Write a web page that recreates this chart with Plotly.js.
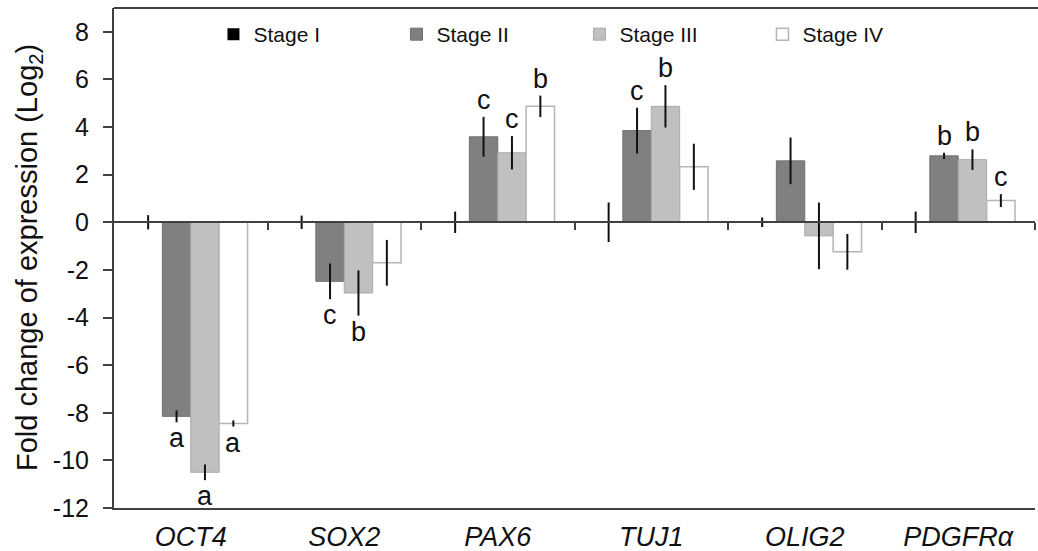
<!DOCTYPE html>
<html>
<head>
<meta charset="utf-8">
<script src="https://cdn.plot.ly/plotly-3.0.1.min.js"></script>
<style>html,body{margin:0;padding:0;background:#fff;overflow:hidden}</style>
</head>
<body>
<div id="chart" style="width:1038px;height:551px"></div>
<script>
const categories = ['OCT4', 'SOX2', 'PAX6', 'TUJ1', 'OLIG2', 'PDGFRα'];
const stageNames = ['Stage I', 'Stage II', 'Stage III', 'Stage IV'];

const stage1 = [0, 0, 0, 0, 0, 0];
const stage1Err = [0.3, 0.28, 0.45, 0.83, 0.2, 0.45];
const stage2 = [-8.15, -2.48, 3.59, 3.85, 2.58, 2.79];
const stage2Err = [0.25, 0.75, 0.84, 0.96, 0.98, 0.13];
const stage3 = [-10.5, -2.97, 2.92, 4.87, -0.57, 2.63];
const stage3Err = [0.33, 0.95, 0.7, 0.89, 1.4, 0.43];
const stage4 = [-8.45, -1.7, 4.87, 2.33, -1.24, 0.91];
const stage4Err = [0.13, 0.96, 0.45, 0.97, 0.75, 0.27];

const stage1Letters = ['', '', '', '', '', ''];
const stage2Letters = ['a', 'c', 'c', 'c', '', 'b'];
const stage3Letters = ['a', 'b', 'c', 'b', '', 'b'];
const stage4Letters = ['a', '', 'b', '', '', 'c'];

const yTicks = [-12, -10, -8, -6, -4, -2, 0, 2, 4, 6, 8];
const yTickLabels = ['-12', '-10', '-8', '-6', '-4', '-2', '0', '2', '4', '6', '8'];
const yTitle = 'Fold change of expression (Log<sub>2</sub>)';

const values = [stage1, stage2, stage3, stage4];
const errors = [stage1Err, stage2Err, stage3Err, stage4Err];
const letters = [stage1Letters, stage2Letters, stage3Letters, stage4Letters];

const fills = ['#000000', '#808080', '#c0c0c0', '#ffffff'];
const outlines = ['#000000', '#6f6f6f', '#a9a9a9', '#b5b5b5'];
const outlineW = [0, 1, 1, 1.5];

const W = 1038, H = 551;
const M = {l: 114, r: 3, t: 8, b: 43};
const yRange = [-12, 9];
const bargap = 0.26;
const FONT = 'Liberation Sans, Arial, sans-serif';
const TXT = '#111111';
const AX = '#404040';

const traces = values.map((v, i) => ({
  type: 'bar',
  name: stageNames[i],
  x: categories,
  y: v,
  marker: {color: fills[i], line: {color: outlines[i], width: outlineW[i]}},
  error_y: {type: 'data', array: errors[i], visible: true, color: '#111', thickness: 2, width: 0},
  hoverinfo: 'x+y+name'
}));
traces.push({type: 'scatter', x: [0], y: [0], xaxis: 'x2', yaxis: 'y', mode: 'markers',
  marker: {opacity: 0, size: 1}, showlegend: false, hoverinfo: 'skip'});

const plotW = W - M.l - M.r;
const barW = plotW / categories.length * (1 - bargap) / stageNames.length;
const annotations = [];
letters.forEach((arr, s) => {
  arr.forEach((t, c) => {
    if (!t) return;
    const v = values[s][c], e = errors[s][c];
    const pos = v >= 0;
    annotations.push({
      x: categories[c], y: pos ? v + e : v - e,
      xref: 'x', yref: 'y',
      text: t, showarrow: false,
      xshift: (s - 1.5) * barW,
      yanchor: pos ? 'bottom' : 'top',
      yshift: pos ? 0 : 1,
      font: {family: FONT, size: 27, color: TXT}
    });
  });
});
annotations.push({
  xref: 'paper', yref: 'paper', x: -(M.l - 29) / plotW, y: 0.5,
  xanchor: 'center', yanchor: 'middle', textangle: -90,
  text: yTitle, showarrow: false,
  font: {family: FONT, size: 29, color: TXT}
});

const layout = {
  width: W, height: H,
  margin: M,
  paper_bgcolor: '#fff', plot_bgcolor: '#fff',
  barmode: 'group', bargap: bargap, bargroupgap: 0,
  font: {family: FONT, color: TXT},
  showlegend: true,
  legend: {
    orientation: 'h', x: 0.108, y: 0.988, xanchor: 'left', yanchor: 'top',
    font: {family: FONT, size: 21, color: TXT},
    entrywidth: 138, entrywidthmode: 'pixels',
    bgcolor: 'rgba(0,0,0,0)', traceorder: 'normal'
  },
  xaxis: {
    type: 'category', range: [-0.5, 5.5],
    tickmode: 'array', tickvals: categories,
    ticktext: categories.map(c => '<i>' + c + '</i>'),
    tickfont: {family: FONT, size: 27, color: TXT},
    ticks: '', ticklabelstandoff: 4,
    showline: true, linecolor: AX, linewidth: 2,
    showgrid: false, zeroline: false, fixedrange: true
  },
  xaxis2: {
    overlaying: 'x', anchor: 'free', position: (0 - yRange[0]) / (yRange[1] - yRange[0]),
    type: 'linear', range: [-0.5, 5.5],
    tickmode: 'array', tickvals: [0.5, 1.5, 2.5, 3.5, 4.5, 5.5],
    ticks: 'outside', ticklen: 7, tickwidth: 2, tickcolor: AX,
    showticklabels: false,
    showline: true, linecolor: AX, linewidth: 2,
    showgrid: false, zeroline: false, fixedrange: true
  },
  yaxis: {
    range: yRange,
    tickmode: 'array', tickvals: yTicks, ticktext: yTickLabels,
    ticks: 'outside', ticklen: 9, tickwidth: 2, tickcolor: AX,
    tickfont: {family: FONT, size: 25, color: TXT},
    ticklabelstandoff: 9,
    showline: true, linecolor: AX, linewidth: 2,
    showgrid: false, zeroline: false, fixedrange: true
  },
  shapes: [{
    type: 'line', xref: 'paper', yref: 'paper', x0: 0, x1: 1.01, y0: 1, y1: 1,
    line: {color: AX, width: 2}
  }],
  annotations: annotations
};

Plotly.newPlot('chart', traces, layout, {displayModeBar: false, staticPlot: true});
</script>
</body>
</html>
